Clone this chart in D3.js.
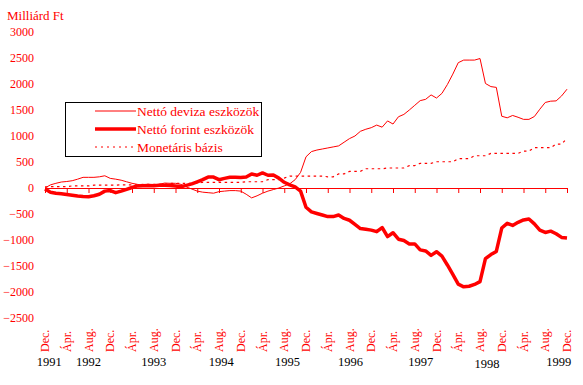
<!doctype html>
<html lang="en">
<head>
  <meta charset="utf-8">
  <title>Milliárd Ft</title>
  <style>
  body { margin: 0; background: #fff; }
  svg text { font-family: "Liberation Serif", "Times New Roman", Times, serif; }
  </style>
</head>
<body>
  <div id="chart"></div>
  <script src="https://d3js.org/d3.v7.min.js" charset="utf-8"></script>
<script>

//----------------- data, monthly from Dec 1991 to Dec 1999
var deviza = [0, 60, 90, 115, 125, 140, 170, 205, 205, 205, 215, 235,
  185, 170, 150, 120, 90, 70, 50, 50, 55, 70, 95, 90,
  90, 70, 20, -20, -60, -80, -90, -100, -70, -60, -50, -50,
  -60, -120, -190, -150, -100, -60, -30, 0, 40, 80, 160, 300,
  600, 700, 730, 750, 770, 790, 810, 880, 950, 1000, 1090, 1130,
  1160, 1210, 1170, 1290, 1230, 1370, 1415, 1500, 1590, 1680, 1705, 1790,
  1730, 1820, 1990, 2190, 2410, 2460, 2460, 2460, 2490, 2010, 1950, 1935,
  1380, 1350, 1395, 1360, 1320, 1320, 1375, 1515, 1645, 1670, 1675, 1770,
  1900];

var forint = [-20, -80, -100, -110, -125, -140, -155, -165, -170, -150, -120, -60,
  -50, -90, -60, -25, 10, 40, 45, 50, 45, 55, 55, 50,
  40, 25, 50, 80, 120, 160, 210, 210, 160, 185, 205, 205,
  200, 210, 270, 245, 290, 245, 250, 190, 110, 60, 20, -60,
  -370, -460, -490, -520, -550, -550, -520, -585, -620, -700, -780, -795,
  -810, -840, -760, -935, -860, -985, -1010, -1075, -1075, -1190, -1210, -1295,
  -1225, -1310, -1480, -1660, -1850, -1900, -1890, -1855, -1800, -1360, -1280, -1220,
  -770, -680, -720, -660, -615, -595, -690, -810, -855, -830, -880, -950,
  -960];

var bazis = [20, 25, 25, 25, 25, 40, 40, 40, 40, 55, 55, 55,
  55, 55, 60, 60, 60, 60, 70, 70, 70, 70, 70, 90,
  90, 90, 90, 90, 90, 110, 110, 110, 110, 110, 110, 110,
  110, 120, 120, 120, 120, 160, 160, 160, 190, 230, 230, 230,
  230, 230, 230, 230, 215, 215, 270, 270, 320, 320, 320, 370,
  370, 370, 370, 385, 385, 385, 385, 430, 430, 475, 475, 475,
  505, 505, 505, 505, 565, 565, 565, 620, 620, 620, 665, 665,
  665, 665, 665, 665, 710, 710, 775, 775, 775, 775, 845, 845,
  955];

var seriesNames = ["Nettó deviza eszközök", "Nettó forint eszközök", "Monetáris bázis"];
var monthNames = ["Dec.", "Ápr.", "Aug."];
var yearLabels = ["1991", "1992", "1993", "1994", "1995", "1996", "1997", "1998", "1999"];
var yearAt = [0.8, 8, 20, 32.4, 44.6, 56.2, 69.1, 81.3, 94.5];
var yTicks = [3000, 2500, 2000, 1500, 1000, 500, 0, -500, -1000, -1500, -2000, -2500];

//----------------- set up svg
var width = 583, height = 385;
var red = "#ff0000";
var serif = "'Liberation Serif', 'Times New Roman', Times, serif";

var svg = d3.select("#chart").append("svg")
    .attr("width", width)
    .attr("height", height)
    .attr("font-family", serif);

var x = d3.scaleLinear().domain([0, 96]).range([45, 567]);
var y = d3.scaleLinear().domain([-2500, 3000]).range([318, 32]);

// unit label
svg.append("text")
    .attr("x", 7).attr("y", 20)
    .attr("font-size", "13px")
    .attr("fill", red)
    .text("Milliárd Ft");

// y axis labels only
var yAxis = svg.append("g")
    .attr("transform", "translate(45,0)")
    .call(d3.axisLeft(y).tickValues(yTicks).tickFormat(d3.format("d")).tickSize(0).tickPadding(11))
    .attr("font-family", serif)
    .attr("font-size", "12px");
yAxis.select(".domain").remove();
yAxis.selectAll("text")
    .attr("fill", red);

// zero line with ticks
var xAxis = svg.append("g")
    .attr("transform", "translate(0," + y(0) + ")")
    .call(d3.axisBottom(x).tickValues(d3.range(0, 97, 4)).tickSize(5).tickSizeOuter(0).tickFormat(""));
xAxis.select(".domain").attr("stroke", red);
xAxis.selectAll(".tick line").attr("stroke", red);

// month labels
svg.append("g").selectAll("text")
    .data(d3.range(0, 97, 4))
    .enter().append("text")
    .attr("transform", function(d) { return "translate(" + (x(d) + 4) + ",352)rotate(-90)"; })
    .attr("font-size", "12px")
    .attr("fill", red)
    .text(function(d, i) { return monthNames[i % 3]; });

// year labels
svg.append("g").selectAll("text")
    .data(yearLabels)
    .enter().append("text")
    .attr("x", function(d, i) { return x(yearAt[i]); })
    .attr("y", function(d) { return d == "1998" ? 368 : 366; })
    .attr("text-anchor", "middle")
    .attr("font-size", "12.5px")
    .attr("fill", "#000")
    .text(function(d) { return d; });

//----------------- lines
var line = d3.line()
    .x(function(d, i) { return x(i); })
    .y(function(d) { return y(d); });

svg.append("path").datum(bazis)
    .attr("d", line)
    .attr("fill", "none")
    .attr("stroke", red)
    .attr("stroke-width", 1.2)
    .attr("stroke-dasharray", "2.5,3.5");

svg.append("path").datum(deviza)
    .attr("d", line)
    .attr("fill", "none")
    .attr("stroke", red)
    .attr("stroke-width", 1);

svg.append("path").datum(forint)
    .attr("d", line)
    .attr("fill", "none")
    .attr("stroke", red)
    .attr("stroke-width", 3.5)
    .attr("stroke-linejoin", "round");

//----------------- legend
var legend = svg.append("g");
legend.append("rect")
    .attr("x", 65.5).attr("y", 102.5)
    .attr("width", 196).attr("height", 54)
    .attr("fill", "#fff")
    .attr("stroke", "#000");

var legendStyle = [
  {w: 1, dash: null},
  {w: 3.5, dash: null},
  {w: 1.2, dash: "2,4"}
];
var ly = [111, 129, 147];

seriesNames.forEach(function(name, i) {
  legend.append("line")
      .attr("x1", 95).attr("x2", 136)
      .attr("y1", ly[i]).attr("y2", ly[i])
      .attr("stroke", red)
      .attr("stroke-width", legendStyle[i].w)
      .attr("stroke-dasharray", legendStyle[i].dash);
  legend.append("text")
      .attr("x", 137).attr("y", ly[i] + 4.5)
      .attr("font-size", "13.5px")
      .attr("fill", red)
      .text(name);
});

  </script>
</body>
</html>
